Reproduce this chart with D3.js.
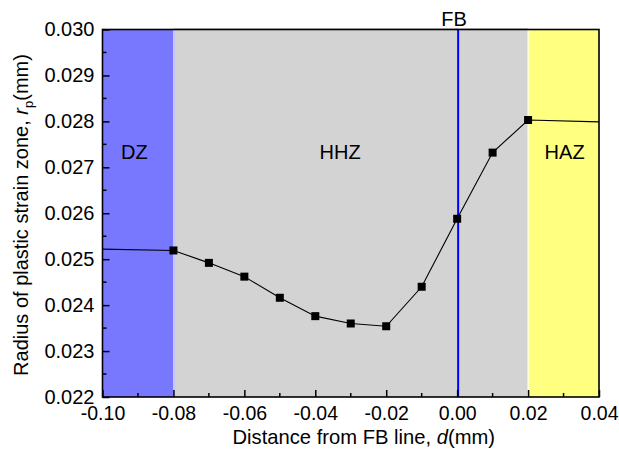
<!DOCTYPE html>
<html><head><meta charset="utf-8">
<script src="https://cdn.jsdelivr.net/npm/d3@7"></script>
<style>
html,body{margin:0;padding:0;background:#fff;}
svg text{font-family:"Liberation Sans",Arial,sans-serif;fill:#000;}
</style></head>
<body>
<svg id="chart" width="619" height="453"></svg>
<script>
// ---- data ----
const distance = [-0.08, -0.07, -0.06, -0.05, -0.04, -0.03, -0.02, -0.01, 0.00, 0.01, 0.02];
const radius   = [0.02519, 0.02492, 0.02462, 0.02416, 0.02376, 0.02360, 0.02354, 0.02440, 0.02588, 0.02732, 0.02803];
const tailX = [-0.10, 0.04];
const tailY = [0.02522, 0.02799];
const xTicks = [-0.10, -0.08, -0.06, -0.04, -0.02, 0.00, 0.02, 0.04];
const yTicks = [0.022, 0.023, 0.024, 0.025, 0.026, 0.027, 0.028, 0.029, 0.030];
const zoneNames = ["DZ", "HHZ", "HAZ"];
const zoneStart = [-0.10, -0.08, 0.02];
const zoneEnd   = [-0.08, 0.02, 0.04];
const zoneColors = ["#7878ff", "#d3d3d3", "#ffff80"];
const zoneLabelX = [-0.091, -0.033, 0.0303];
const zoneLabelY = 0.02718;
const fbX = 0.00;

// ---- layout ----
const L = 102.5, R = 599, T = 29.5, B = 397;
const svg = d3.select("#chart");
const x = d3.scaleLinear().domain([-0.10, 0.04]).range([L, R]);
const y = d3.scaleLinear().domain([0.022, 0.030]).range([B, T]);
const FS = 20;

// zones
svg.selectAll("rect.zone").data(zoneNames).enter().append("rect")
  .attr("x", (d,i) => x(zoneStart[i]))
  .attr("width", (d,i) => x(zoneEnd[i]) - x(zoneStart[i]))
  .attr("y", (d,i) => i === 1 ? T - 1.5 : T)
  .attr("height", (d,i) => i === 1 ? B - T + 1.5 : B - T)
  .attr("fill", (d,i) => zoneColors[i]);
// separators
svg.append("line").attr("x1", x(-0.08)+1).attr("x2", x(-0.08)+1).attr("y1", T).attr("y2", B)
  .attr("stroke", "#c4c4ff").attr("stroke-width", 1.5);
svg.append("line").attr("x1", x(0.02)).attr("x2", x(0.02)).attr("y1", T).attr("y2", B)
  .attr("stroke", "#ffffff").attr("stroke-width", 1.2);

// zone labels
svg.selectAll("text.zl").data(zoneNames).enter().append("text")
  .attr("x", (d,i) => x(zoneLabelX[i])).attr("y", y(zoneLabelY))
  .attr("text-anchor", "middle").attr("font-size", FS).text(d => d);

// FB line
svg.append("line").attr("x1", x(fbX)+1).attr("x2", x(fbX)+1).attr("y1", T).attr("y2", B)
  .attr("stroke", "#0000ff").attr("stroke-width", 2);
svg.append("text").attr("x", x(fbX)-3).attr("y", 26).attr("text-anchor", "middle")
  .attr("font-size", FS).text("FB");

// data line
const line = d3.line().x(d => x(d[0])).y(d => y(d[1]));
const pts = distance.map((d,i) => [d, radius[i]]);
const full = [[tailX[0], tailY[0]]].concat(pts, [[tailX[1], tailY[1]]]);
svg.append("path").attr("d", line(full)).attr("fill", "none")
  .attr("stroke", "#000").attr("stroke-width", 1.1);
svg.selectAll("rect.pt").data(pts).enter().append("rect")
  .attr("x", d => x(d[0]) - 4).attr("y", d => y(d[1]) - 4)
  .attr("width", 8).attr("height", 8).attr("fill", "#000");

// axes with inward ticks
const fmtX = d => d3.format(".2f")(d).replace("\u2212", "-");
const fmtY = d => d3.format(".3f")(d).replace("\u2212", "-");
const xAxis = d3.axisBottom(x).tickValues(xTicks).tickSize(-7).tickPadding(9.5).tickFormat(fmtX);
const gx = svg.append("g").attr("transform", `translate(0,${B})`).call(xAxis);
const yAxis = d3.axisLeft(y).tickValues(yTicks).tickSize(-7).tickPadding(8).tickFormat(fmtY);
const gy = svg.append("g").attr("transform", `translate(${L},0)`).call(yAxis);
[gx, gy].forEach(g => {
  g.select(".domain").remove();
  g.selectAll(".tick line").attr("stroke", "#000").attr("stroke-width", 1.5);
  g.selectAll(".tick text").attr("font-size", FS).attr("font-family", "Liberation Sans, Arial, sans-serif")
    .attr("fill", "#000");
});
gx.selectAll(".tick text").attr("font-size", 19.5).attr("dy", "0.71em");
// minor ticks
const xMinor = d3.range(-0.09, 0.04, 0.02);
svg.selectAll("line.xm").data(xMinor).enter().append("line")
  .attr("x1", d => x(d)).attr("x2", d => x(d)).attr("y1", B).attr("y2", B - 4)
  .attr("stroke", "#000").attr("stroke-width", 1.5);
const yMinor = d3.range(0.0225, 0.030, 0.001);
svg.selectAll("line.ym").data(yMinor).enter().append("line")
  .attr("x1", L).attr("x2", L + 4).attr("y1", d => y(d)).attr("y2", d => y(d))
  .attr("stroke", "#000").attr("stroke-width", 1.5);

// frame
svg.append("rect").attr("x", L).attr("y", T).attr("width", R - L).attr("height", B - T)
  .attr("fill", "none").attr("stroke", "#000").attr("stroke-width", 1.6);

// axis titles
const xt = svg.append("text").attr("x", (L + R) / 2 + 13).attr("y", 444)
  .attr("text-anchor", "middle").attr("font-size", 20.2);
xt.append("tspan").text("Distance from FB line, ");
xt.append("tspan").attr("font-style", "italic").text("d");
xt.append("tspan").text("(mm)");

const yt = svg.append("text").attr("transform", "translate(28,215) rotate(-90)")
  .attr("text-anchor", "middle").attr("font-size", FS);
yt.append("tspan").text("Radius of plastic strain zone, ");
yt.append("tspan").attr("font-style", "italic").text("r");
yt.append("tspan").attr("font-size", 13).attr("dy", 5).text("p");
yt.append("tspan").attr("dy", -5).text("(mm)");
</script>
</body></html>
